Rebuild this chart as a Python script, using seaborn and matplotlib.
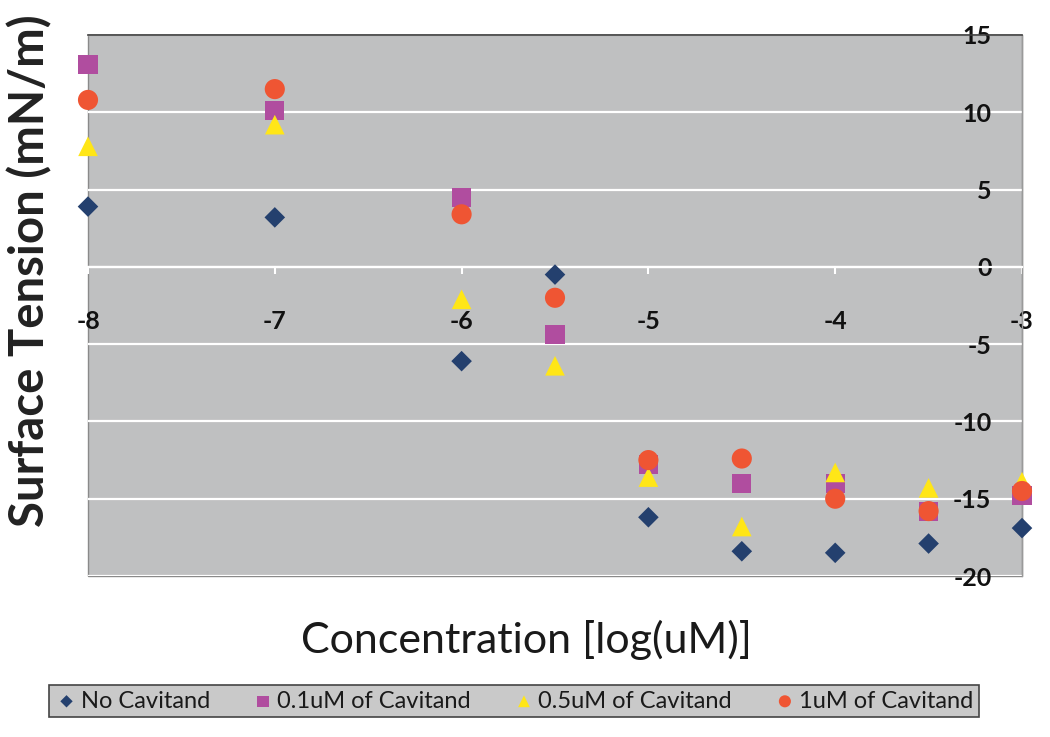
import matplotlib
matplotlib.use("Agg")
import matplotlib.pyplot as plt
import seaborn as sns
import pandas as pd

# ---- data ----
conc = [-8, -7, -6, -5.5, -5, -4.5, -4, -3.5, -3]
no_cav = [3.9, 3.2, -6.1, -0.5, -16.2, -18.4, -18.5, -17.9, -16.9]
cav_01 = [13.1, 10.1, 4.5, -4.4, -12.8, -14.0, -14.0, -15.8, -14.8]
cav_05 = [7.8, 9.2, -2.1, -6.4, -13.6, -16.8, -13.3, -14.3, -13.9]
cav_1 = [10.8, 11.5, 3.4, -2.0, -12.5, -12.4, -15.0, -15.8, -14.5]
series_names = ["No Cavitand", "0.1uM of Cavitand", "0.5uM of Cavitand", "1uM of Cavitand"]
x_ticks = [-8, -7, -6, -5, -4, -3]
y_ticks = [-20, -15, -10, -5, 0, 5, 10, 15]

colors = ["#24406e", "#b04d9f", "#ffe617", "#ef5533"]
markers = ["D", "s", "^", "o"]
sizes = [110, 190, 200, 210]

df = pd.DataFrame({
    "conc": conc * 4,
    "tension": no_cav + cav_01 + cav_05 + cav_1,
    "series": [n for n in series_names for _ in conc],
})

sns.set_theme(style="white")
plt.rcParams["font.family"] = ["Lato", "DejaVu Sans"]
plt.rcParams["axes.unicode_minus"] = False

fig = plt.figure(figsize=(10.5, 7.37), dpi=100)
ax = fig.add_axes([88 / 1050, 1 - 576 / 737, (1022 - 88) / 1050, (576 - 35) / 737])
ax.set_facecolor("#bfc0c1")

for name, c, m, s in zip(series_names, colors, markers, sizes):
    sns.scatterplot(data=df[df["series"] == name], x="conc", y="tension",
                    color=c, marker=m, s=s, edgecolor="none", linewidth=0,
                    ax=ax, label=name, clip_on=False, zorder=3)

ax.set_xlim(-8, -3)
ax.set_ylim(-20, 15)
ax.set_xticks(x_ticks, labels=[str(v) for v in x_ticks])
ax.yaxis.tick_right()
ax.set_yticks(y_ticks, labels=[str(v) for v in y_ticks])
ax.grid(axis="y", color="white", lw=1.6)
ax.grid(axis="x", visible=False)
ax.set_axisbelow(True)

ax.spines["left"].set_visible(False)
ax.spines["top"].set_color("#3a3a3a")
ax.spines["top"].set_linewidth(1.2)
ax.spines["right"].set_color("#9a9a9a")
ax.spines["right"].set_linewidth(1.0)
ax.spines["bottom"].set_position(("data", 0))
ax.spines["bottom"].set_color("white")
ax.spines["bottom"].set_linewidth(1.6)
ax.patch.set_edgecolor("#8a8a8a")
ax.patch.set_linewidth(1.0)

ax.tick_params(axis="x", bottom=True, color="white", length=5, width=1.5,
               direction="out", pad=26, labelsize=18, labelcolor="#111")
ax.tick_params(axis="y", length=0, pad=-22, labelsize=18, labelcolor="#111")

ax.set_ylabel("Surface Tension (mN/m)", fontsize=34, fontweight="bold", color="#222")
ax.yaxis.set_label_position("left")
ax.yaxis.set_label_coords(-0.062, 0.565)
ax.yaxis.label.set_va("center")
ax.set_xlabel("Concentration [log(uM)]", fontsize=31, color="#1a1a1a")
ax.xaxis.set_label_coords(0.469, -0.118)
ax.xaxis.label.set_va("center")

leg = ax.legend(loc="center", bbox_to_anchor=(514 / 1050, 1 - 701 / 737),
                bbox_transform=fig.transFigure, ncol=4, frameon=True,
                fancybox=False, edgecolor="#444", facecolor="#c9c9c9",
                framealpha=1, fontsize=17, markerscale=0.6, handletextpad=0.1,
                columnspacing=1.75, borderpad=0.25, handlelength=1.0)
leg.get_frame().set_linewidth(1.2)
for t in leg.get_texts():
    t.set_color("#1a1a1a")

fig.canvas.draw()
for lbl in ax.get_xticklabels():
    lbl.set_fontweight("bold")
for lbl in ax.get_yticklabels():
    lbl.set_fontweight("bold")
    lbl.set_horizontalalignment("right")

fig.savefig("out.png", dpi=100, facecolor="white")
